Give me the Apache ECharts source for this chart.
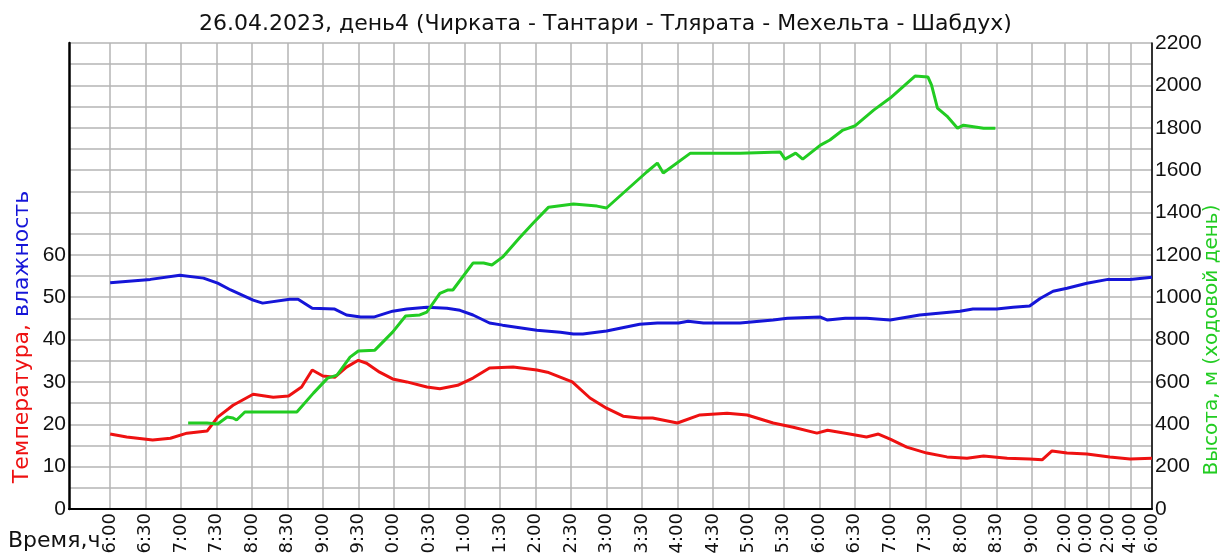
<!DOCTYPE html>
<html>
<head>
<meta charset="utf-8">
<script src="https://cdn.jsdelivr.net/npm/echarts@6/dist/echarts.min.js"></script>
<style>
html, body { margin: 0; padding: 0; background: #fff; }
#chart { width: 1224px; height: 553px; }
</style>
</head>
<body>
<div id="chart"></div>
<script>
var FONT = '"DejaVu Sans", sans-serif';
var NUMFONT = '"Liberation Sans", Arial, sans-serif';

// подписи оси времени (ночь сжата)
var tickTimes = ['6:00','6:30','7:00','7:30','8:00','8:30','9:00','9:30','10:00','10:30',
    '11:00','11:30','12:00','12:30','13:00','13:30','14:00','14:30','15:00','15:30',
    '16:00','16:30','17:00','17:30','18:00','18:30','19:00','22:00','0:00','2:00','4:00','6:00'];

// влажность, %
var humidity = [['6:00',53.4],['6:34',54.2],['6:59',55.2],['7:19',54.5],['7:31',53.3],['7:42',51.7],
    ['8:01',49.3],['8:09',48.6],['8:32',49.5],['8:39',49.5],['8:51',47.4],['9:10',47.2],['9:20',45.8],
    ['9:32',45.3],['9:43',45.3],['9:59',46.7],['10:11',47.2],['10:28',47.6],['10:45',47.4],['10:56',46.9],
    ['11:07',45.8],['11:21',43.9],['11:32',43.4],['12:01',42.2],['12:21',41.7],['12:32',41.3],['12:40',41.3],
    ['13:00',42.0],['13:28',43.6],['13:43',43.9],['14:01',43.9],['14:09',44.3],['14:22',43.9],['14:53',43.9],
    ['15:21',44.6],['15:33',45.0],['16:01',45.3],['16:07',44.6],['16:22',45.0],['16:40',45.0],['17:00',44.6],
    ['17:25',45.8],['17:59',46.7],['18:10',47.2],['18:30',47.2],['18:44',47.6],['18:58',47.9],['19:44',49.7],
    ['20:55',51.4],['22:11',52.1],['0:01',53.3],['1:57',54.2],['3:59',54.2],['6:00',54.7]];

// температура, °C
var temperature = [['6:00',17.7],['6:14',17.0],['6:36',16.3],['6:51',16.7],['7:05',17.9],['7:22',18.4],
    ['7:31',21.7],['7:44',24.5],['8:01',27.1],['8:18',26.4],['8:31',26.7],['8:42',28.8],['8:51',32.8],
    ['9:00',31.4],['9:10',31.1],['9:20',33.5],['9:30',35.1],['9:37',34.4],['9:48',32.3],['9:59',30.7],
    ['10:11',30.0],['10:28',28.8],['10:39',28.4],['10:54',29.2],['11:07',30.9],['11:21',33.3],['11:41',33.5],
    ['12:01',32.8],['12:10',32.3],['12:31',30.0],['12:46',26.2],['13:00',23.8],['13:14',21.9],['13:28',21.5],
    ['13:39',21.5],['14:00',20.3],['14:19',22.2],['14:42',22.6],['14:59',22.2],['15:21',20.3],['15:38',19.3],
    ['15:58',17.9],['16:07',18.6],['16:22',17.9],['16:40',17.0],['16:50',17.7],['17:00',16.5],['17:14',14.6],
    ['17:31',13.2],['17:48',12.3],['18:05',12.0],['18:19',12.5],['18:39',12.0],['18:58',11.8],['19:55',11.6],
    ['20:49',13.7],['22:11',13.2],['0:01',13.0],['2:07',12.3],['3:59',11.8],['6:00',12.0]];

// высота, м
var altitude = [['7:06',406],['7:22',406],['7:31',401],['7:39',434],['7:44',430],['7:47',420],['7:54',458],
    ['8:38',458],['8:52',547],['9:04',618],['9:12',632],['9:23',717],['9:30',746],['9:44',750],['9:59',835],
    ['10:10',911],['10:22',916],['10:28',930],['10:39',1018],['10:46',1034],['10:50',1034],['11:07',1161],
    ['11:16',1161],['11:23',1152],['11:32',1189],['11:47',1284],['11:58',1350],['12:11',1425],['12:32',1440],
    ['12:52',1430],['13:00',1421],['13:17',1506],['13:34',1591],['13:43',1633],['13:48',1586],['14:11',1680],
    ['14:53',1680],['15:27',1685],['15:31',1652],['15:40',1680],['15:46',1652],['16:01',1718],['16:09',1742],
    ['16:20',1789],['16:30',1808],['16:46',1883],['17:00',1940],['17:21',2044],['17:32',2039],['17:35',2001],
    ['17:40',1893],['17:48',1855],['17:57',1798],['18:02',1812],['18:19',1798],['18:29',1798]];

// часы -> позиция на оси: день 6..19 как есть, вечер и ночь сжаты
function toAxis(h) {
    if (h <= 19) return h;
    if (h <= 22) return 19 + (h - 19) * 0.1551;
    return 19.4653 + (h - 22) * 0.15334;
}

function parseTimes(list) {
    var prev = -1, out = [];
    for (var i = 0; i < list.length; i++) {
        var p = list[i].split(':');
        var h = +p[0] + (+p[1]) / 60;
        while (h < prev) h += 24;
        prev = h;
        out.push(h);
    }
    return out;
}

function toSeries(pairs) {
    var hrs = parseTimes(pairs.map(function (d) { return d[0]; }));
    return pairs.map(function (d, i) { return [toAxis(hrs[i]), d[1]]; });
}

var tickPos = parseTimes(tickTimes).map(toAxis);

function tickLabel(v) {
    var best = 0;
    for (var i = 1; i < tickPos.length; i++) {
        if (Math.abs(tickPos[i] - v) < Math.abs(tickPos[best] - v)) best = i;
    }
    return tickTimes[best];
}

var myChart = echarts.init(document.getElementById('chart'));
var option = {
    backgroundColor: '#fff',
    animation: false,
    textStyle: { fontFamily: FONT },
    title: {
        text: '26.04.2023, день4 (Чирката - Тантари - Тлярата - Мехельта - Шабдух)',
        left: 194,
        top: 8,
        textStyle: { fontFamily: FONT, fontSize: 22, fontWeight: 'normal', color: '#111' }
    },
    grid: { left: 69, right: 72, top: 43, bottom: 44, containLabel: false, outerBoundsMode: 'none' },
    xAxis: {
        type: 'value',
        min: 5.42,
        max: toAxis(30),
        axisLine: { onZero: false, lineStyle: { color: '#000', width: 2 } },
        axisTick: { show: false, customValues: tickPos },
        axisLabel: {
            customValues: tickPos,
            rotate: 90,
            margin: 4,
            fontSize: 18,
            fontFamily: FONT,
            color: '#111',
            formatter: tickLabel
        },
        splitLine: { show: true, lineStyle: { color: '#b4b4b4', width: 1.5 } }
    },
    yAxis: [{
        type: 'value',
        min: 0,
        max: 110,
        interval: 10,
        position: 'left',
        axisLine: { show: true, lineStyle: { color: '#000', width: 2.5 } },
        axisTick: { show: false },
        axisLabel: {
            margin: 3, fontSize: 21, fontFamily: NUMFONT, color: '#111',
            formatter: function (v) { return v <= 60 ? String(v) : ''; }
        },
        splitLine: { show: false }
    }, {
        type: 'value',
        min: 0,
        max: 2200,
        interval: 100,
        position: 'right',
        axisLine: { show: true, lineStyle: { color: '#000', width: 1.5 } },
        axisTick: { show: false },
        axisLabel: {
            margin: 3, fontSize: 21, fontFamily: NUMFONT, color: '#111',
            formatter: function (v) { return v % 200 === 0 ? String(v) : ''; }
        },
        splitLine: { show: true, lineStyle: { color: '#b4b4b4', width: 1.5 } }
    }],
    graphic: [{
        type: 'text',
        x: 22, y: 337,
        rotation: Math.PI / 2,
        style: {
            text: '{r|Температура,} {b|влажность}',
            align: 'center', verticalAlign: 'middle',
            font: '22px ' + FONT,
            rich: {
                r: { fill: '#ee1111', font: '22px ' + FONT },
                b: { fill: '#1515d8', font: '22px ' + FONT }
            }
        }
    }, {
        type: 'text',
        x: 1212, y: 340,
        rotation: Math.PI / 2,
        style: {
            text: 'Высота, м (ходовой день)',
            align: 'center', verticalAlign: 'middle',
            fill: '#22cc22',
            font: '20px ' + FONT
        }
    }, {
        type: 'text',
        x: 8, y: 541,
        style: {
            text: 'Время,ч',
            align: 'left', verticalAlign: 'middle',
            fill: '#111',
            font: '22px ' + FONT
        }
    }],
    series: [{
        name: 'влажность',
        type: 'line',
        yAxisIndex: 0,
        showSymbol: false,
        data: toSeries(humidity),
        lineStyle: { color: '#1515d8', width: 3 }
    }, {
        name: 'температура',
        type: 'line',
        yAxisIndex: 0,
        showSymbol: false,
        data: toSeries(temperature),
        lineStyle: { color: '#ee1111', width: 3 }
    }, {
        name: 'высота',
        type: 'line',
        yAxisIndex: 1,
        showSymbol: false,
        data: toSeries(altitude),
        lineStyle: { color: '#22cc22', width: 3 }
    }]
};
myChart.setOption(option);
window.addEventListener('resize', myChart.resize);
</script>
</body>
</html>
